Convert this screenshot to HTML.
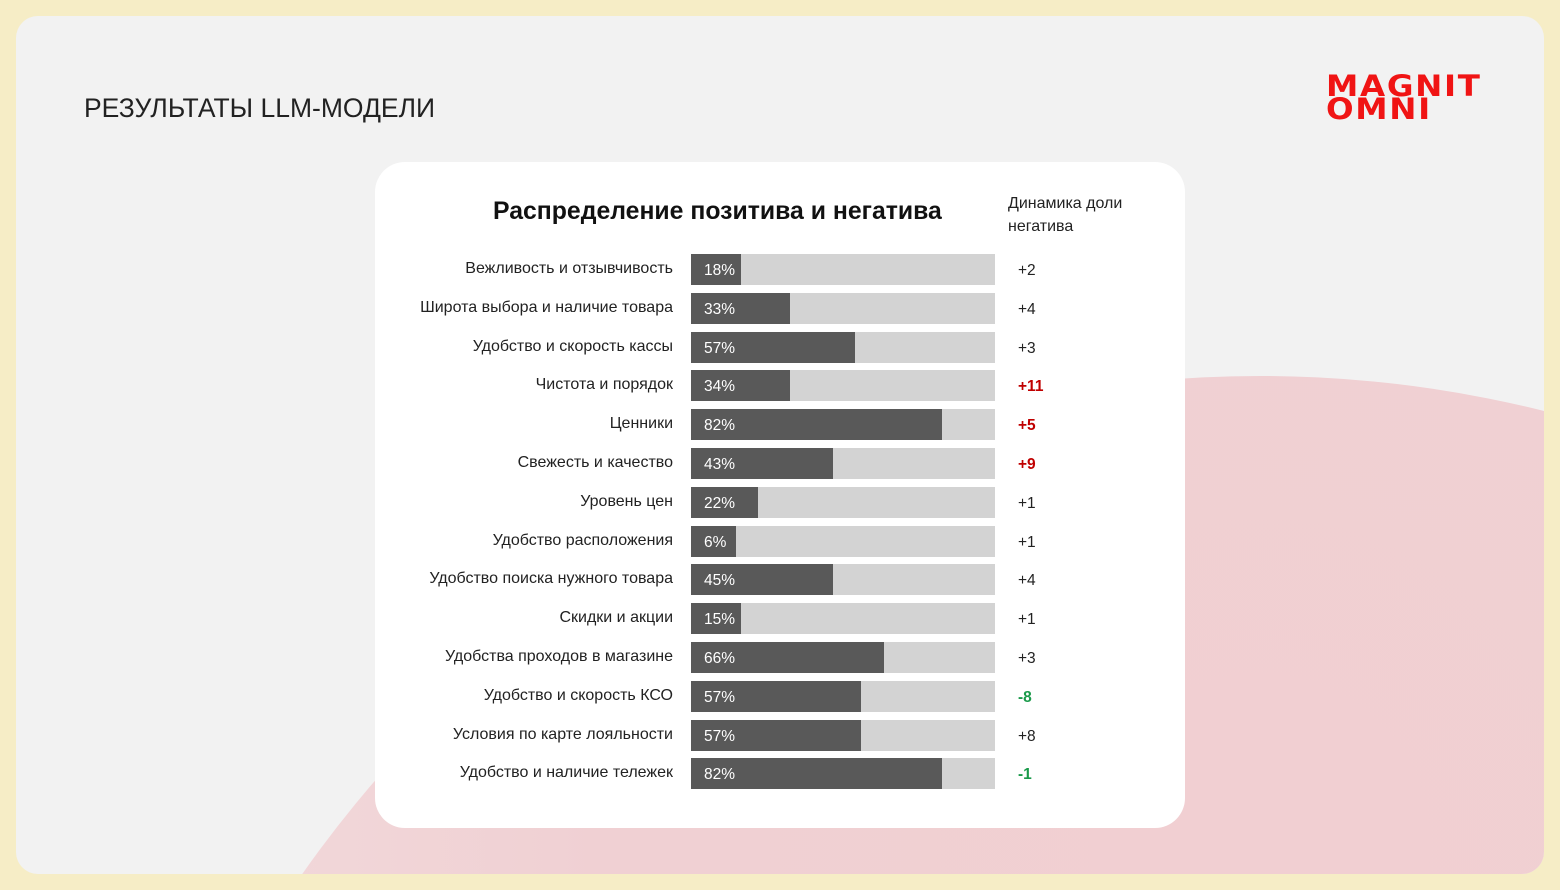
<!DOCTYPE html>
<html><head><meta charset="utf-8"><style>
html,body{margin:0;width:1560px;height:890px;overflow:hidden}
body{background:#f6edc6;font-family:"Liberation Sans","DejaVu Sans",sans-serif;position:relative}
#inner{position:absolute;left:16px;top:16px;width:1528px;height:858px;background:#f2f2f2;border-radius:22px;overflow:hidden}
#circ{position:absolute;left:74px;top:360px;width:2340px;height:2340px;border-radius:50%;background:radial-gradient(circle at 50% 20%,#f1cfd2,#f0d0d3 30%,#f3dfe0 60%);}
#title{position:absolute;left:84px;top:93px;font-size:26.5px;color:#222}
#logo{position:absolute;left:1326px;top:75px;color:#f01414;font-weight:900;font-size:29px;line-height:23px;letter-spacing:1.5px;font-family:"DejaVu Sans","Liberation Sans",sans-serif;transform:scaleX(1.12);transform-origin:left top}
#card{position:absolute;left:375px;top:162px;width:810px;height:666px;background:#fff;border-radius:30px}
.h{position:absolute;left:493px;top:198px;font-size:24.8px;font-weight:bold;color:#111}
.d{position:absolute;left:1008px;top:192px;font-size:16px;color:#222;line-height:23px}
.lab{position:absolute;right:887px;font-size:16px;color:#222;white-space:nowrap}
.bar{position:absolute;left:691px;width:304px;height:31px;background:#d3d3d3}
.dk{position:absolute;left:0;top:0;height:31px;background:#595959;color:#fff;font-size:15.5px;line-height:33px;padding-left:13px;box-sizing:border-box}
.v{position:absolute;left:1018px;font-size:15.5px;color:#222}
</style></head><body>
<div id="inner"><div id="circ"></div></div>
<div id="title">РЕЗУЛЬТАТЫ LLM-МОДЕЛИ</div>
<div id="logo">MAGNIT<br>OMNI</div>
<div id="card"></div>
<div class="h">Распределение позитива и негатива</div>
<div class="d">Динамика доли<br>негатива</div>
<div id="rows"></div>
<script>
var d=[["Вежливость и отзывчивость",18,50,"+2",0],["Широта выбора и наличие товара",33,99,"+4",0],["Удобство и скорость кассы",57,164,"+3",0],["Чистота и порядок",34,99,"+11",1],["Ценники",82,251,"+5",1],["Свежесть и качество",43,142,"+9",1],["Уровень цен",22,67,"+1",0],["Удобство расположения",6,45,"+1",0],["Удобство поиска нужного товара",45,142,"+4",0],["Скидки и акции",15,50,"+1",0],["Удобства проходов в магазине",66,193,"+3",0],["Удобство и скорость КСО",57,170,"-8",2],["Условия по карте лояльности",57,170,"+8",0],["Удобство и наличие тележек",82,251,"-1",2]];
var h="";d.forEach(function(r,i){var y=254+i*38.8;var c=["#222","#c00000","#1a9a4a"][r[4]];
h+='<div class="lab" style="top:'+(y+6)+'px">'+r[0]+'</div><div class="bar" style="top:'+y+'px"><div class="dk" style="width:'+r[2]+'px">'+r[1]+'%</div></div><div class="v" style="top:'+(y+8)+'px;color:'+c+(r[4]?';font-weight:bold':'')+'">'+r[3]+'</div>';});
document.getElementById("rows").innerHTML=h;
</script>
</body></html>
